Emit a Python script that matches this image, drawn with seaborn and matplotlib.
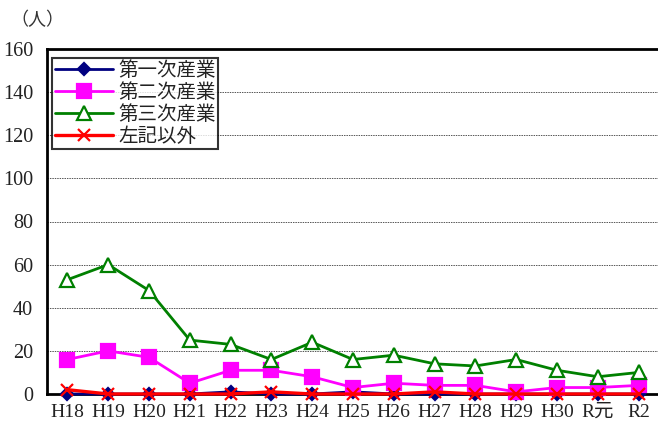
import numpy as np
import pandas as pd
import seaborn as sns
import matplotlib.pyplot as plt
from matplotlib.ticker import MultipleLocator, FixedLocator

years = ["H18", "H19", "H20", "H21", "H22", "H23", "H24", "H25",
         "H26", "H27", "H28", "H29", "H30", "R元", "R2"]
primary = [0, 0, 0, 0, 1, 0, 0, 1, 0, 0, 0, 0, 0, 0, 0]
secondary = [16, 20, 17, 5, 11, 11, 8, 3, 5, 4, 4, 1, 3, 3, 4]
tertiary = [53, 60, 48, 25, 23, 16, 24, 16, 18, 14, 13, 16, 11, 8, 10]
other = [2, 0, 0, 0, 0, 1, 0, 0, 0, 1, 0, 0, 0, 0, 0]
series = ["第一次産業", "第二次産業", "第三次産業", "左記以外"]

df = pd.DataFrame({
    "pos": np.tile(np.arange(len(years)), 4),
    "value": primary + secondary + tertiary + other,
    "series": np.repeat(series, len(years)),
})

sns.set_style("white")
plt.rcParams['font.family'] = ['Liberation Serif', 'DejaVu Serif', 'Noto Sans CJK JP']

fig = plt.figure(figsize=(6.58, 4.26), dpi=100)
ax = fig.add_axes([47 / 658, 32 / 426, 612 / 658, 345 / 426])

colors = {"第一次産業": "#000080", "第二次産業": "#ff00ff",
          "第三次産業": "#008000", "左記以外": "#ff0000"}
markers = {"第一次産業": "D", "第二次産業": "s", "第三次産業": "^", "左記以外": "x"}
msize = {"第一次産業": 6.5, "第二次産業": 10, "第三次産業": 10, "左記以外": 8}
lwidth = {"第一次産業": 2, "第二次産業": 2, "第三次産業": 2, "左記以外": 2.4}

for name in series:
    sub = df[df["series"] == name]
    mfc = "white" if name == "第三次産業" else colors[name]
    sns.lineplot(data=sub, x="pos", y="value", ax=ax, color=colors[name],
                 marker=markers[name], markersize=msize[name], markerfacecolor=mfc,
                 markeredgecolor=colors[name], markeredgewidth=1.6,
                 linewidth=lwidth[name], label=name, zorder=3, clip_on=False)

ax.set_xlim(-0.5, len(years) - 0.5)
ax.set_ylim(0, 160)
ax.yaxis.set_major_locator(MultipleLocator(20))
ax.set_xticks(np.arange(len(years)))
ax.set_xticklabels(years)
ax.xaxis.set_minor_locator(FixedLocator(np.arange(len(years) + 1) - 0.5))
ax.tick_params(axis="x", which="major", length=0, pad=7, labelsize=14,
               labelcolor="#222222")
ax.tick_params(axis="x", which="minor", length=4, direction="in", color="#888888")
ax.tick_params(axis="y", length=4, direction="out", labelsize=14.5, pad=6,
               labelcolor="#222222")
ax.set_xlabel("")
ax.set_ylabel("")
ax.grid(axis="y", linestyle=(0, (1.5, 1)), color="#555555", linewidth=0.7)
ax.set_axisbelow(True)
for s in ["left", "bottom", "top"]:
    ax.spines[s].set_color("black")
    ax.spines[s].set_linewidth(2)
ax.spines["right"].set_visible(False)

leg = ax.legend(loc="upper left", bbox_to_anchor=(0.008, 0.974), frameon=True,
                fancybox=False, edgecolor="black", fontsize=14, borderpad=0.15,
                labelspacing=0.18, handlelength=3.0, handletextpad=0.25,
                borderaxespad=0)
leg.get_frame().set_linewidth(1.5)
for t in leg.get_texts():
    t.set_color("#222222")

fig.text(10 / 658, 1 - 20 / 426, "（人）", fontsize=13, va="center", ha="left",
         color="#333333")

fig.savefig("out.png", dpi=100)
